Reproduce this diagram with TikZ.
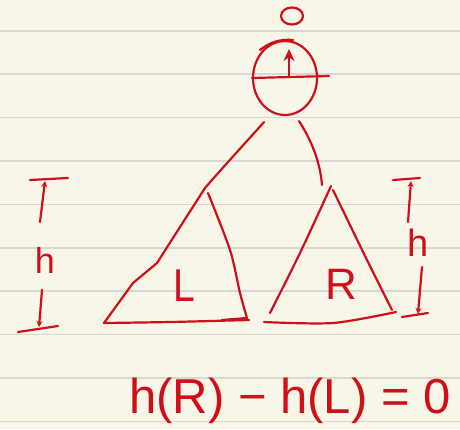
\documentclass[tikz,border=0pt]{standalone}
\usepackage{fontspec}
\setmainfont{Liberation Sans}
\usetikzlibrary{arrows.meta,shapes.geometric}
\definecolor{paper}{HTML}{F8F5E9}
\definecolor{ruling}{HTML}{D7D7D3}
\definecolor{ink}{HTML}{D10F1A}
\begin{document}
\begin{tikzpicture}[x=1pt,y=-1pt,
  pen/.style={draw=ink,line width=2.2pt,line cap=round,line join=round},
  lbl/.style={text=ink,inner sep=0pt},
  tip/.style={-{Stealth[length=6pt,width=6pt]}}]
\fill[paper] (0,0) rectangle (460,429);
\useasboundingbox (0,0) rectangle (460,429);
\foreach \y in {30.7,74.1,117.5,160.9,204.3,247.7,291.1,334.5,377.9,421.3}
  \draw[ruling,line width=1.6pt] (0,\y) -- (460,\y);
% balance mark
\node[pen,ellipse,minimum width=22pt,minimum height=17pt,inner sep=0pt] (bf) at (292,16) {};
% root node
\node[pen,ellipse,minimum width=64pt,minimum height=74pt,inner sep=0pt] (root) at (285,78) {};
\draw[pen] (root.west) -- ([shift={(11,-2)}]root.east);
\draw[pen] ([shift={(-25,10)}]root.north) to[bend left=20] ([shift={(8,0)}]root.north);
\draw[pen,-{Stealth[length=12pt,width=11pt]}] ([shift={(4,-1)}]root.center) -- ([shift={(4,-29)}]root.center);
% subtree apexes and corners
\coordinate (la) at (205,188);
\coordinate (lbl) at (104,323);
\coordinate (lbr) at (247,318);
\coordinate (ra) at (331,186);
\coordinate (rbl) at (264,322);
\coordinate (rbr) at (396,312);
\coordinate (re) at (322,185);
% edges
\draw[pen] ([shift={(-21,6)}]root.south) .. controls (248,140) and (225,165) .. (la);
\draw[pen] ([shift={(14,5)}]root.south) .. controls (310,138) and (320,160) .. (re);
% left subtree
\draw[pen] (lbl) -- (133,283) -- (157,263) -- (164,252) -- (la);
\draw[pen] plot[smooth] coordinates {(208,193) (230,250) (240,293) (lbr)};
\draw[pen] plot[smooth] coordinates {(lbl) (170,322) (249,320)};
\draw[pen] (222,320) -- (lbr);
% right subtree
\draw[pen] plot[smooth] coordinates {(ra) (300,253) (270,313)};
\draw[pen] plot[smooth] coordinates {(333,190) (367,260) (392,310)};
\draw[pen] plot[smooth] coordinates {(rbl) (333,323) (rbr)};
\node[lbl,font=\fontsize{46}{46}\selectfont,xscale=0.85] (L) at (184,286) {L};
\node[lbl,font=\fontsize{44}{44}\selectfont] (R) at (341,284) {R};
% left height marker
\coordinate (ltl) at (30,180); \coordinate (ltr) at (68,178);
\draw[pen] (ltl) -- (ltr);
\node[lbl,font=\fontsize{36}{36}\selectfont] (hl) at (45,260) {h};
\draw[pen,tip] (40,222) -- (45,181);
\draw[pen,tip] (42,290) -- (39,327);
\coordinate (lbl2) at (18,332); \coordinate (lbr2) at (58,326);
\draw[pen] (lbl2) -- (lbr2);
% right height marker
\coordinate (rtl) at (393,180); \coordinate (rtr) at (420,178);
\draw[pen] (rtl) -- (rtr);
\node[lbl,font=\fontsize{38}{38}\selectfont] (hr) at (418,243) {h};
\draw[pen,tip] (408,222) -- (411,181);
\draw[pen,tip] (422,267) -- (418,314);
\coordinate (rbl2) at (402,317); \coordinate (rbr2) at (428,313);
\draw[pen] (rbl2) -- (rbr2);
% equation
\node[lbl,font=\fontsize{49}{49}\selectfont] (eq) at (290,401) {h(R) − h(L) = 0};
\end{tikzpicture}
\end{document}
